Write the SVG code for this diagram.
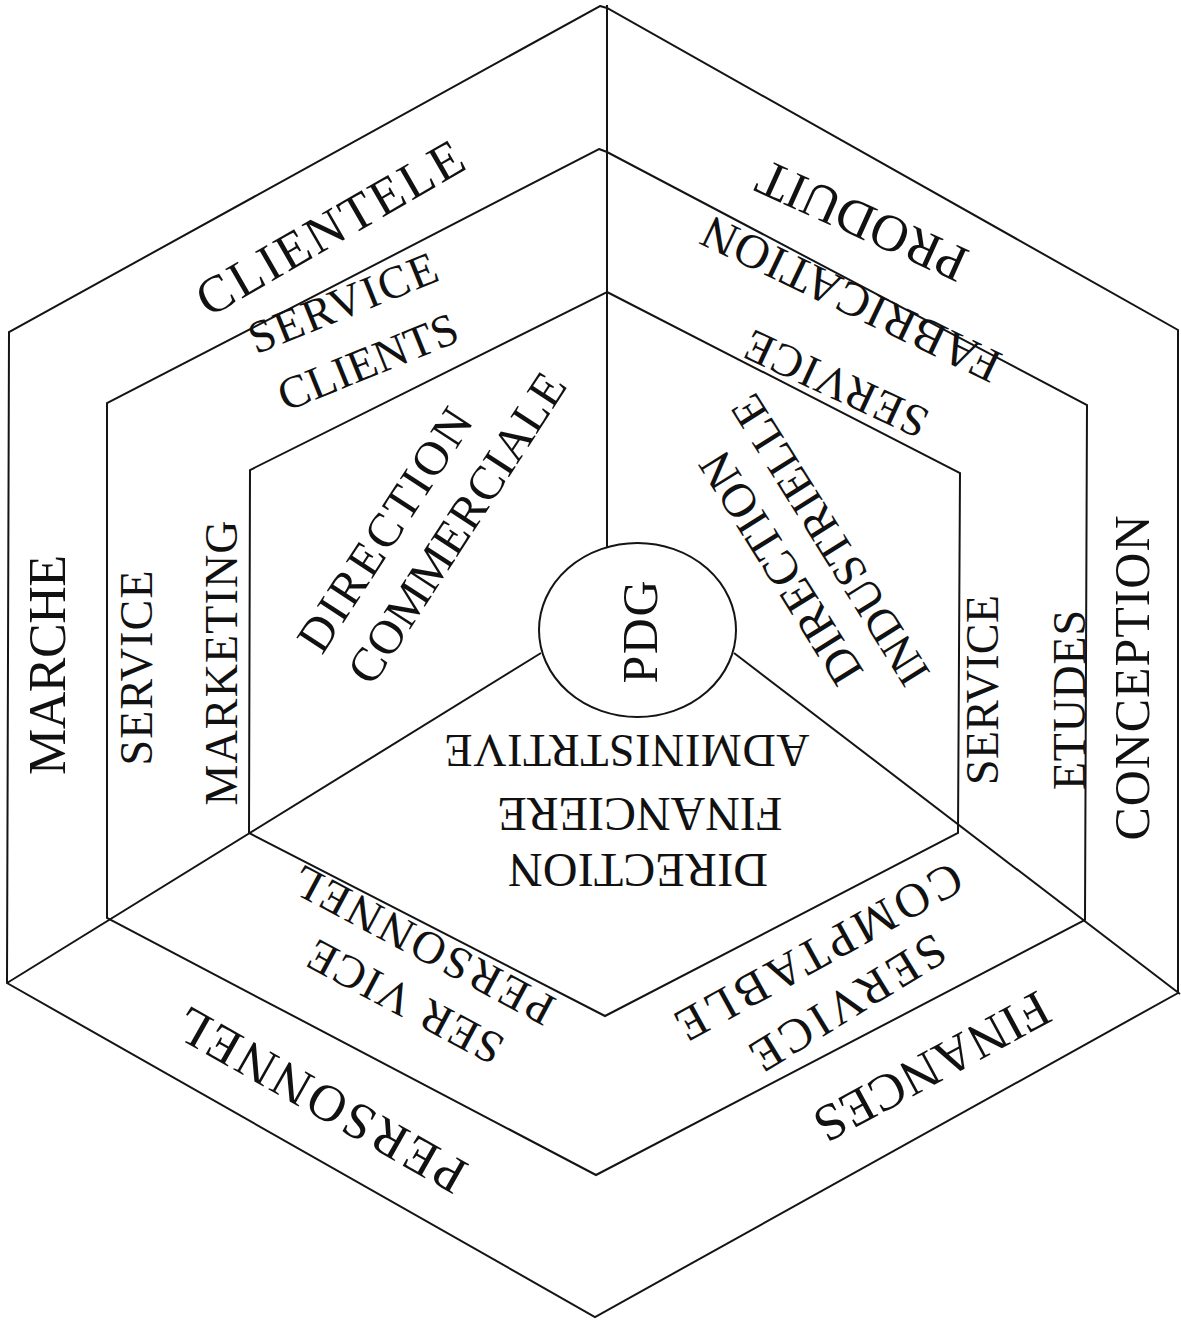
<svg xmlns="http://www.w3.org/2000/svg" width="1181" height="1322" viewBox="0 0 1181 1322">
<style>
.ln{fill:none;stroke:#141414;stroke-width:2;stroke-linejoin:miter}
text{font-family:"Liberation Serif","Times New Roman",serif;fill:#111;text-anchor:middle}
</style>
<rect x="0" y="0" width="1181" height="1322" fill="#fff"/>
<g id="frame">
<polygon class="ln" points="600,6 607,8 1178,330 1178,993 595,1317 7,983 9,332"/>
<polygon class="ln" points="599,149 607,152 1087,405 1085,920 596,1175 107,918 107,403"/>
<polygon class="ln" points="607,292 960,473 958,833 605,1016 249,833 250,470"/>
</g>
<g id="connectors">
<line class="ln" x1="607" y1="5" x2="607" y2="547"/>
<line class="ln" x1="7" y1="983" x2="541" y2="653"/>
<line class="ln" x1="734" y1="653" x2="1180" y2="994"/>
</g>
<g id="pdg">
<ellipse class="ln" cx="637.5" cy="630" rx="98.5" ry="87"/>
<text transform="translate(640,632) rotate(-90)" y="16.5" font-size="50" textLength="103">PDG</text>
</g>
<g id="commercial">
<text transform="translate(330,228) rotate(-30)" y="17.2" font-size="52" textLength="300">CLIENTELE</text>
<text transform="translate(343,303) rotate(-22)" y="15.2" font-size="46" textLength="200">SERVICE</text>
<text transform="translate(368,362) rotate(-22)" y="15.2" font-size="46" textLength="190">CLIENTS</text>
<text transform="translate(385,530) rotate(-57)" y="15.8" font-size="48" textLength="280">DIRECTION</text>
<text transform="translate(457,528) rotate(-57)" y="15.8" font-size="48" textLength="360">COMMERCIALE</text>
<text transform="translate(48,665) rotate(-90)" y="17.2" font-size="52" textLength="220">MARCHE</text>
<text transform="translate(137,668) rotate(-90)" y="15.2" font-size="46" textLength="195">SERVICE</text>
<text transform="translate(222,663) rotate(-90)" y="15.2" font-size="46" textLength="285">MARKETING</text>
</g>
<g id="industriel">
<text transform="translate(862,221) rotate(204.3)" y="17.2" font-size="52" textLength="225">PRODUIT</text>
<text transform="translate(851,299) rotate(205.6)" y="15.8" font-size="48" textLength="325">FABRICATION</text>
<text transform="translate(836,384) rotate(204.9)" y="15.2" font-size="46" textLength="197">SERVICE</text>
<text transform="translate(781,568) rotate(-122)" y="15.8" font-size="48" textLength="265">DIRECTION</text>
<text transform="translate(830,540) rotate(-122)" y="15.2" font-size="46" textLength="333">INDUSTRIELLE</text>
<text transform="translate(983,690) rotate(-90)" y="15.2" font-size="46" textLength="190">SERVICE</text>
<text transform="translate(1070,700) rotate(-90)" y="15.2" font-size="46" textLength="180">ETUDES</text>
<text transform="translate(1132,678) rotate(-90)" y="16.5" font-size="50" textLength="325">CONCEPTION</text>
</g>
<g id="financier">
<text transform="translate(638,870) rotate(180)" y="15.8" font-size="48" textLength="260">DIRECTION</text>
<text transform="translate(640,814) rotate(180)" y="15.8" font-size="48" textLength="285">FINANCIERE</text>
<text transform="translate(627,750) rotate(180)" y="15.2" font-size="46" textLength="365">ADMINISTRTIVE</text>
<text transform="translate(848,1003) rotate(148.5)" y="15.8" font-size="48" textLength="220">SERVICE</text>
<text transform="translate(819,952) rotate(151.1)" y="15.8" font-size="48" textLength="320">COMPTABLE</text>
<text transform="translate(932,1067) rotate(151.5)" y="17.2" font-size="52" textLength="260">FINANCES</text>
<text transform="translate(405,1002) rotate(208)" y="15.2" font-size="46" textLength="215">SER VICE</text>
<text transform="translate(423,945) rotate(208)" y="15.2" font-size="46" textLength="290">PERSONNEL</text>
<text transform="translate(321,1100) rotate(209.6)" y="17.2" font-size="52" textLength="325">PERSONNEL</text>
</g>
</svg>
